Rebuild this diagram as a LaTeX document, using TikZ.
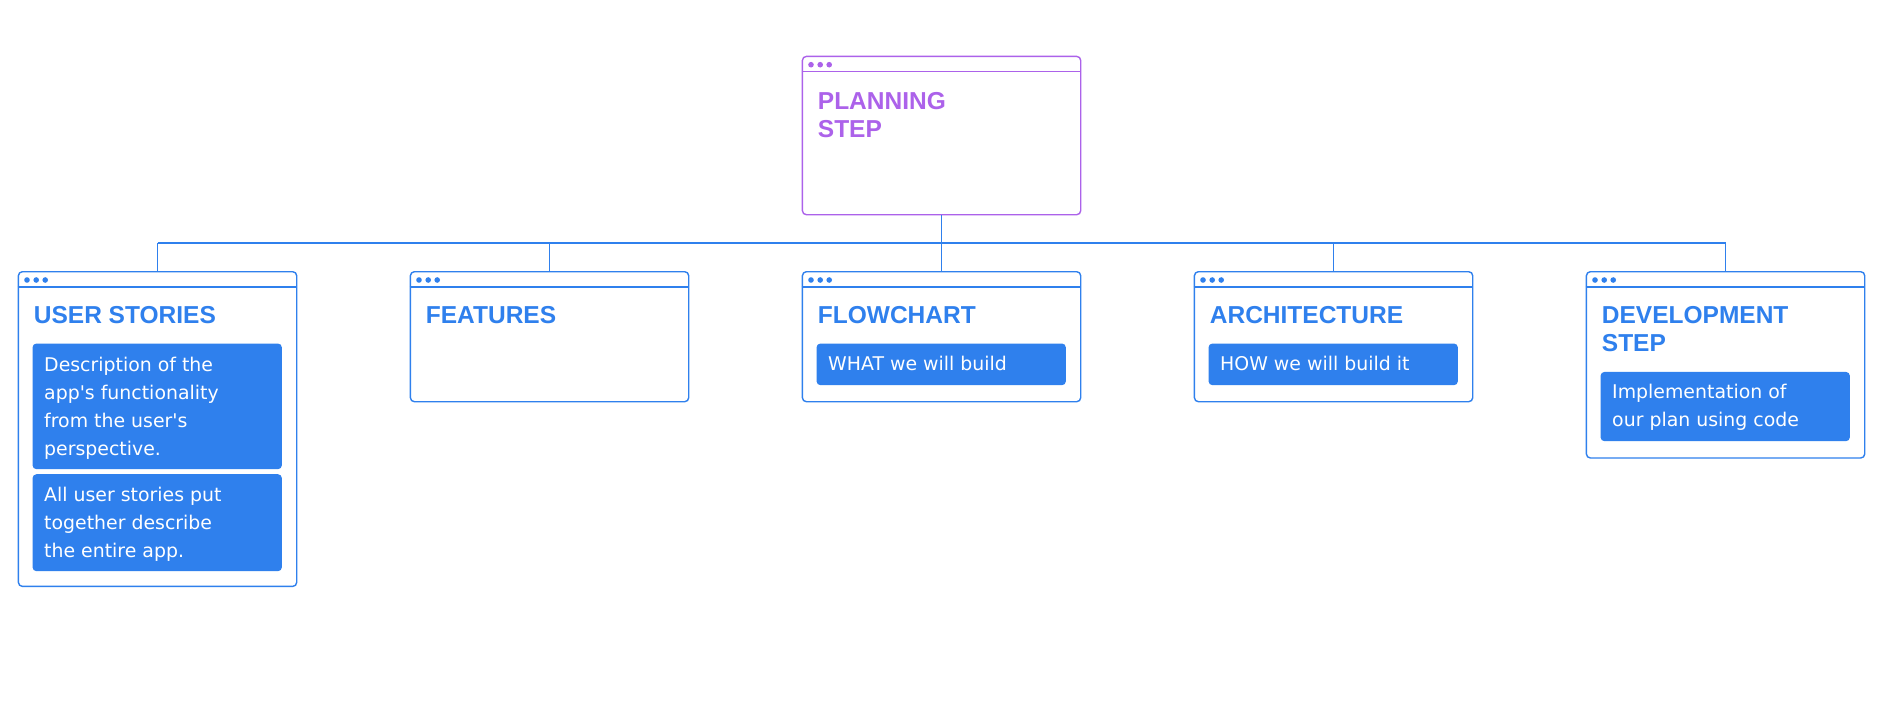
\documentclass[tikz,border=0pt]{standalone}
\usepackage{fontspec}
\setmainfont{Liberation Sans}
\newfontfamily\bodyfont{DejaVu Sans}
\definecolor{bblue}{HTML}{2F80ED}
\definecolor{ppurple}{RGB}{172,98,234}
\newcommand{\mytextblock}[1]{\parbox[t]{240pt}{\raggedright #1}}
\begin{document}
\begin{tikzpicture}[x=1pt,y=-1pt,
  winbox/.style={draw=bblue, line width=1.4pt, rounded corners=4pt, fill=white, inner sep=0pt, anchor=north west, minimum width=278.3pt},
  bluebox/.style={fill=bblue, rounded corners=4pt, inner sep=0pt, anchor=north west, minimum width=249.4pt},
  titletext/.style={anchor=base west, inner sep=0pt, text=bblue, font=\fontsize{24.5}{28}\selectfont\bfseries},
  bodytext/.style={anchor=base west, inner sep=0pt, text=white, font=\bodyfont\fontsize{18.9}{28}\selectfont},
  conn/.style={draw=bblue, line width=1.3pt}]
\useasboundingbox[fill=white] (0,0) rectangle (1887,720);

% windows
\node[winbox, draw=ppurple, minimum height=158.3pt] (plan) at (801.7,55.7) {};
\node[winbox, minimum height=314.7pt] (us) at (17.7,271) {};
\node[winbox, minimum height=130pt] (feat) at (409.7,271) {};
\node[winbox, minimum height=130pt] (flow) at (801.7,271) {};
\node[winbox, minimum height=130pt] (arch) at (1193.7,271) {};
\node[winbox, minimum height=186.3pt] (dev) at (1585.7,271) {};

% window headers
\foreach \n in {us,feat,flow,arch,dev} {
  \draw[bblue, line width=1.4pt] ([shift={(0,16)}]\n.north west) -- ([shift={(0,16)}]\n.north east);
  \foreach \dx in {9.3,18.5,27.5}
    \fill[bblue] ([shift={(\dx,9)}]\n.north west) circle (2.8pt);
}
\draw[ppurple, line width=1.4pt] ([shift={(0,16)}]plan.north west) -- ([shift={(0,16)}]plan.north east);
\foreach \dx in {9.3,18.5,27.5}
  \fill[ppurple] ([shift={(\dx,9)}]plan.north west) circle (2.8pt);

% titles
\node[titletext, text=ppurple] (planT) at ([shift={(16,53.3)}]plan.north west) {\mytextblock{PLANNING\\STEP}};
\node[titletext] (usT) at ([shift={(16,52.3)}]us.north west) {USER STORIES};
\node[titletext] (featT) at ([shift={(16,52.3)}]feat.north west) {FEATURES};
\node[titletext] (flowT) at ([shift={(16,52.3)}]flow.north west) {FLOWCHART};
\node[titletext] (archT) at ([shift={(16,52.3)}]arch.north west) {ARCHITECTURE};
\node[titletext] (devT) at ([shift={(16,52.3)}]dev.north west) {\mytextblock{DEVELOPMENT\\STEP}};

% blue content boxes
\node[bluebox, minimum height=125.7pt] (usA) at (32.3,343.3) {};
\node[bluebox, minimum height=97pt] (usB) at (32.3,474) {};
\node[bluebox, minimum height=41.7pt] (flowA) at (816.3,343.3) {};
\node[bluebox, minimum height=41.7pt] (archA) at (1208.3,343.3) {};
\node[bluebox, minimum height=69.3pt] (devA) at (1600.3,371.7) {};

\node[bodytext] (usAT) at ([shift={(11.7,27.7)}]usA.north west) {\mytextblock{Description of the\\app's functionality\\from the user's\\perspective.}};
\node[bodytext] (usBT) at ([shift={(11.7,27.7)}]usB.north west) {\mytextblock{All user stories put\\together describe\\the entire app.}};
\node[bodytext] (flowAT) at ([shift={(11.7,27)}]flowA.north west) {WHAT we will build};
\node[bodytext] (archAT) at ([shift={(11.7,27)}]archA.north west) {HOW we will build it};
\node[bodytext] (devAT) at ([shift={(11.7,27)}]devA.north west) {\mytextblock{Implementation of\\our plan using code}};

% connectors
\path (plan.south) ++(0,27.7) coordinate (bus);
\draw[conn] (plan.south) -- (bus);
\draw[conn] (us.north |- bus) -- (dev.north |- bus);
\foreach \n in {us,feat,flow,arch,dev}
  \draw[conn] (\n.north |- bus) -- (\n.north);
\end{tikzpicture}
\end{document}
